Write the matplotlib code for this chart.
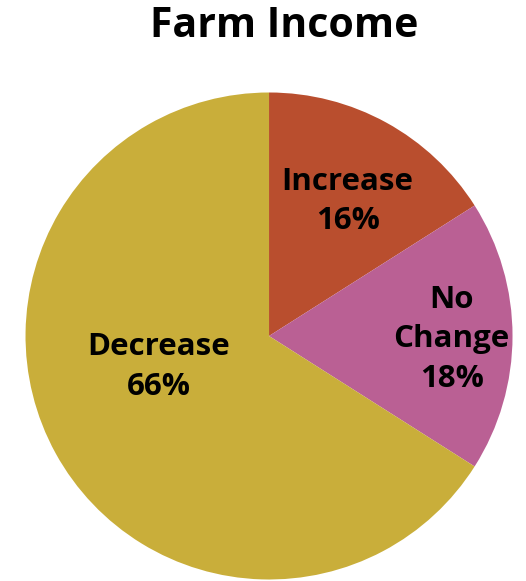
import numpy as np
import matplotlib
matplotlib.use('Agg')
import matplotlib.pyplot as plt

# data
categories = ["Increase", "No\nChange", "Decrease"]
shares = [16, 18, 66]
colors = ["#B94E2E", "#BA6094", "#C9AE3A"]

# label placement (radius fraction, angle tweak in degrees)
label_dist = [0.64, 0.75, 0.47]
label_tweak = [-1.5, -1.0, -13.0]

plt.rcParams['font.family'] = ['Open Sans', 'DejaVu Sans']

fig = plt.figure(figsize=(5.26, 5.81), dpi=100)
ax = fig.add_axes([0.0485, 0.0026, 0.9259, 0.8382])

wedges, _ = ax.pie(shares, colors=colors, startangle=90, counterclock=False,
                   radius=1.0, wedgeprops=dict(linewidth=0))
ax.set_xlim(-1, 1)
ax.set_ylim(-1, 1)
ax.set_aspect('equal')
ax.axis('off')

for w, cat, val, d, t in zip(wedges, categories, shares, label_dist, label_tweak):
    ang = np.deg2rad((w.theta1 + w.theta2) / 2 + t)
    ax.text(d * np.cos(ang), d * np.sin(ang), f"{cat}\n{val}%",
            ha='center', va='center', fontsize=22.5, fontweight='bold',
            linespacing=1.42, color='black')

fig.text(0.54, 0.954, "Farm Income", ha='center', va='center',
         fontsize=29.5, fontweight='bold')

fig.savefig("out.png", dpi=100)
